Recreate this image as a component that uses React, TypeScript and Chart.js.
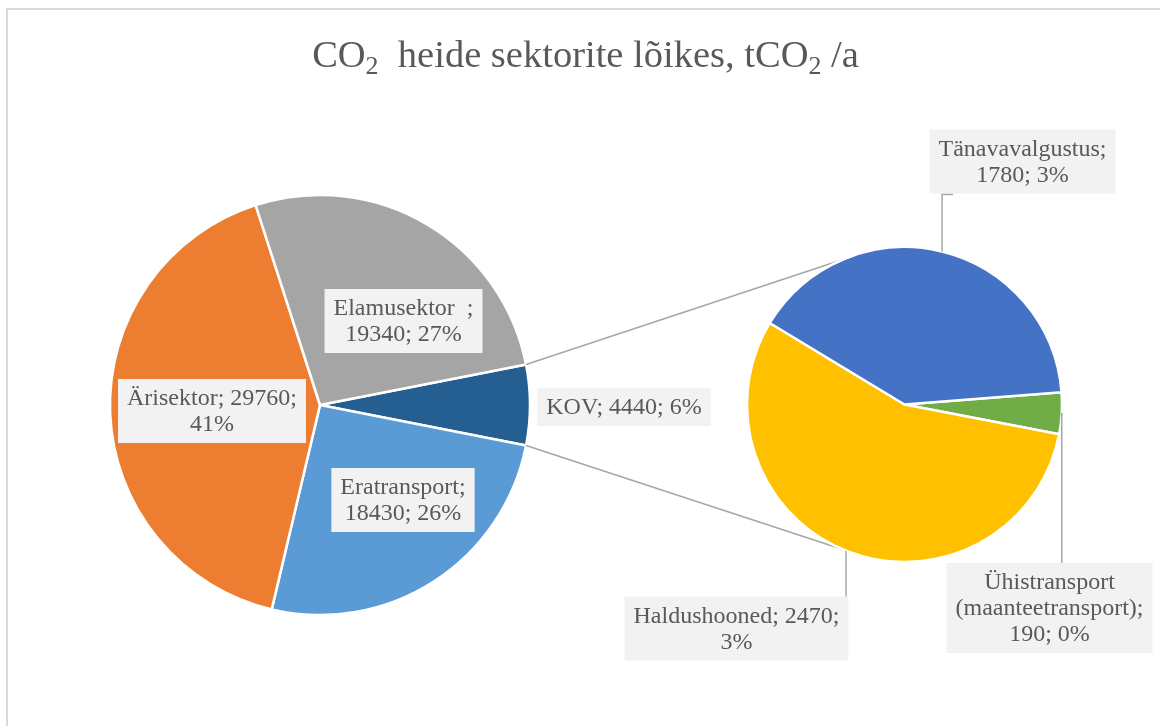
import React, { useEffect, useRef } from "react";
import { Chart, registerables } from "chart.js";

Chart.register(...registerables);

// ---------- data ----------
const titleParts = ["CO", "2", "  heide sektorite lõikes, tCO", "2", " /a"];
const titleSubscript = [false, true, false, true, false];

const mainCategories = ["KOV", "Eratransport", "Ärisektor", "Elamusektor  "];
const mainValues = [4440, 18430, 29760, 19340];
const mainPercents = [6, 26, 41, 27];
const mainColors = ["#255E91", "#5B9BD5", "#ED7D31", "#A5A5A5"];

const subCategories = ["Ühistransport (maanteetransport)", "Haldushooned", "Tänavavalgustus"];
const subValues = [190, 2470, 1780];
const subPercents = [0, 3, 3];
const subColors = ["#70AD47", "#FFC000", "#4472C4"];

// ---------- layout / style ----------
const W = 1160;
const H = 726;
const FONT = '"Liberation Serif", "Times New Roman", serif';
const TEXT = "#595959";
const LINE = "#A6A6A6";
const BOX = "#F2F2F2";
const LABEL_SIZE = 24;
const LINE_H = 26;
const PAD_X = 9;
const PAD_Y = 6;

const mainCenter = { x: 320, y: 405 };
const mainRadius = 210;
const subCenter = { x: 904.5, y: 404.5 };
const subRadius = 157.5;
const subStartDeg = -4.5;

const mainLabelOffsets = [[304, 2], [83, 95], [-108, 6], [83.5, -84]];
const mainWrap = [200, 135, 178, 150];
const subLabelOffsets = [[145, 203.5], [-168, 224], [118, -243]];
const subWrap = [195, 215, 180];
const subLeaderAngles = [3, 111.8, -76.2];
const connectorAngle = 113;

function wrapText(ctx: CanvasRenderingContext2D, text: string, maxW: number): string[] {
  const tokens = text.split(/(?<=\S) (?=\S)/);
  const lines: string[] = [];
  let cur = "";
  for (const t of tokens) {
    const test = cur ? cur + " " + t : t;
    if (cur && ctx.measureText(test).width > maxW) {
      lines.push(cur);
      cur = t;
    } else cur = test;
  }
  if (cur) lines.push(cur);
  return lines;
}

type Box = { left: number; right: number; top: number; bottom: number };

function drawLabel(ctx: CanvasRenderingContext2D, text: string, maxW: number, cx: number, cy: number): Box {
  ctx.save();
  ctx.font = `${LABEL_SIZE}px ${FONT}`;
  const lines = wrapText(ctx, text, maxW);
  const w = Math.max(...lines.map((l) => ctx.measureText(l).width)) + 2 * PAD_X;
  const h = lines.length * LINE_H + 2 * PAD_Y;
  const left = cx - w / 2;
  const top = cy - h / 2;
  ctx.fillStyle = BOX;
  ctx.fillRect(left, top, w, h);
  ctx.fillStyle = TEXT;
  ctx.textAlign = "center";
  ctx.textBaseline = "middle";
  lines.forEach((l, i) => {
    ctx.fillText(l, cx, top + PAD_Y + LINE_H / 2 + i * LINE_H + 1);
  });
  ctx.restore();
  return { left, right: left + w, top, bottom: top + h };
}

const rad = (d: number) => (d * Math.PI) / 180;

export default function App() {
  const leftRef = useRef<HTMLCanvasElement | null>(null);
  const rightRef = useRef<HTMLCanvasElement | null>(null);

  useEffect(() => {
    if (!leftRef.current || !rightRef.current) return;
    const mainTotal = mainValues.reduce((a, b) => a + b, 0);
    const mainRotation = 90 - ((mainValues[0] / mainTotal) * 360) / 2;

    const framePlugin = {
      id: "frameTitle",
      beforeDraw(chart: any) {
        const ctx = chart.ctx as CanvasRenderingContext2D;
        ctx.save();
        ctx.fillStyle = "#FFFFFF";
        ctx.fillRect(0, 0, W, H);
        ctx.strokeStyle = "#D9D9D9";
        ctx.lineWidth = 2;
        ctx.strokeRect(7, 9, 1400, 1000);
        ctx.restore();
      },
      afterDraw(chart: any) {
        const ctx = chart.ctx as CanvasRenderingContext2D;
        ctx.save();
        const big = `38.5px ${FONT}`;
        const small = `26px ${FONT}`;
        let total = 0;
        titleParts.forEach((p, i) => {
          ctx.font = titleSubscript[i] ? small : big;
          total += ctx.measureText(p).width;
        });
        let x = 585.5 - total / 2;
        const baseY = 67;
        ctx.fillStyle = TEXT;
        ctx.textBaseline = "alphabetic";
        ctx.textAlign = "left";
        titleParts.forEach((p, i) => {
          ctx.font = titleSubscript[i] ? small : big;
          ctx.fillText(p, x, titleSubscript[i] ? baseY + 7 : baseY);
          x += ctx.measureText(p).width;
        });
        ctx.restore();
      },
    };

    const mainLabelPlugin = {
      id: "mainLabels",
      afterDatasetsDraw(chart: any) {
        const ctx = chart.ctx as CanvasRenderingContext2D;
        const arcs = chart.getDatasetMeta(0).data;
        arcs.forEach((arc: any, i: number) => {
          const text = `${mainCategories[i]}; ${mainValues[i]}; ${mainPercents[i]}%`;
          drawLabel(ctx, text, mainWrap[i], arc.x + mainLabelOffsets[i][0], arc.y + mainLabelOffsets[i][1]);
        });
      },
    };

    const leftChart = new Chart(leftRef.current, {
      type: "pie",
      data: {
        labels: mainCategories,
        datasets: [
          {
            data: mainValues,
            backgroundColor: mainColors,
            borderColor: "#FFFFFF",
            borderWidth: 2.5,
            hoverOffset: 0,
          } as any,
        ],
      },
      options: {
        responsive: false,
        animation: false,
        devicePixelRatio: 1,
        events: [],
        rotation: mainRotation,
        radius: mainRadius,
        layout: { padding: { left: 0, right: W - 2 * mainCenter.x, top: 2 * mainCenter.y - H, bottom: 0 } },
        plugins: { legend: { display: false }, tooltip: { enabled: false }, title: { display: false } },
      } as any,
      plugins: [framePlugin, mainLabelPlugin],
    });

    const subPlugin = {
      id: "subExtras",
      beforeDatasetsDraw(chart: any) {
        const ctx = chart.ctx as CanvasRenderingContext2D;
        const kov: any = leftChart.getDatasetMeta(0).data[0];
        const sub: any = chart.getDatasetMeta(0).data[0];
        const r1 = kov.outerRadius;
        const r2 = sub.outerRadius;
        const starts = [
          [kov.x + r1 * Math.cos(kov.startAngle), kov.y + r1 * Math.sin(kov.startAngle)],
          [kov.x + r1 * Math.cos(kov.endAngle), kov.y + r1 * Math.sin(kov.endAngle)],
        ];
        const ends = [
          [sub.x + r2 * Math.cos(rad(-connectorAngle)), sub.y + r2 * Math.sin(rad(-connectorAngle))],
          [sub.x + r2 * Math.cos(rad(connectorAngle)), sub.y + r2 * Math.sin(rad(connectorAngle))],
        ];
        ctx.save();
        ctx.strokeStyle = LINE;
        ctx.lineWidth = 1.5;
        for (let k = 0; k < 2; k++) {
          ctx.beginPath();
          ctx.moveTo(starts[k][0], starts[k][1]);
          ctx.lineTo(ends[k][0], ends[k][1]);
          ctx.stroke();
        }
        ctx.restore();
      },
      afterDatasetsDraw(chart: any) {
        const ctx = chart.ctx as CanvasRenderingContext2D;
        const arcs = chart.getDatasetMeta(0).data;
        arcs.forEach((arc: any, i: number) => {
          const text = `${subCategories[i]}; ${subValues[i]}; ${subPercents[i]}%`;
          const lx = arc.x + subLabelOffsets[i][0];
          const ly = arc.y + subLabelOffsets[i][1];
          const a = rad(subLeaderAngles[i]);
          const px = arc.x + arc.outerRadius * Math.cos(a);
          const py = arc.y + arc.outerRadius * Math.sin(a);
          const box = drawLabel(ctx, text, subWrap[i], lx, ly);
          ctx.save();
          ctx.strokeStyle = LINE;
          ctx.lineWidth = 1.5;
          ctx.beginPath();
          if (py > box.bottom) {
            ctx.moveTo(px, py);
            ctx.lineTo(px, box.bottom + 1);
            ctx.lineTo(px + 11, box.bottom + 1);
          } else {
            ctx.moveTo(px, py);
            ctx.lineTo(px, box.top);
          }
          ctx.stroke();
          ctx.restore();
        });
      },
    };

    const rightChart = new Chart(rightRef.current, {
      type: "pie",
      data: {
        labels: subCategories,
        datasets: [
          {
            data: subValues,
            backgroundColor: subColors,
            borderColor: "#FFFFFF",
            borderWidth: 2.5,
            hoverOffset: 0,
          } as any,
        ],
      },
      options: {
        responsive: false,
        animation: false,
        devicePixelRatio: 1,
        events: [],
        rotation: 90 + subStartDeg,
        radius: subRadius,
        layout: { padding: { left: 2 * subCenter.x - W, right: 0, top: 2 * subCenter.y - H, bottom: 0 } },
        plugins: { legend: { display: false }, tooltip: { enabled: false }, title: { display: false } },
      } as any,
      plugins: [subPlugin],
    });

    return () => {
      rightChart.destroy();
      leftChart.destroy();
    };
  }, []);

  return (
    <div style={{ position: "fixed", left: 0, top: 0, width: W, height: H, background: "#FFFFFF", overflow: "hidden" }}>
      <canvas ref={leftRef} width={W} height={H} style={{ position: "absolute", left: 0, top: 0, width: W, height: H }} />
      <canvas ref={rightRef} width={W} height={H} style={{ position: "absolute", left: 0, top: 0, width: W, height: H }} />
    </div>
  );
}
